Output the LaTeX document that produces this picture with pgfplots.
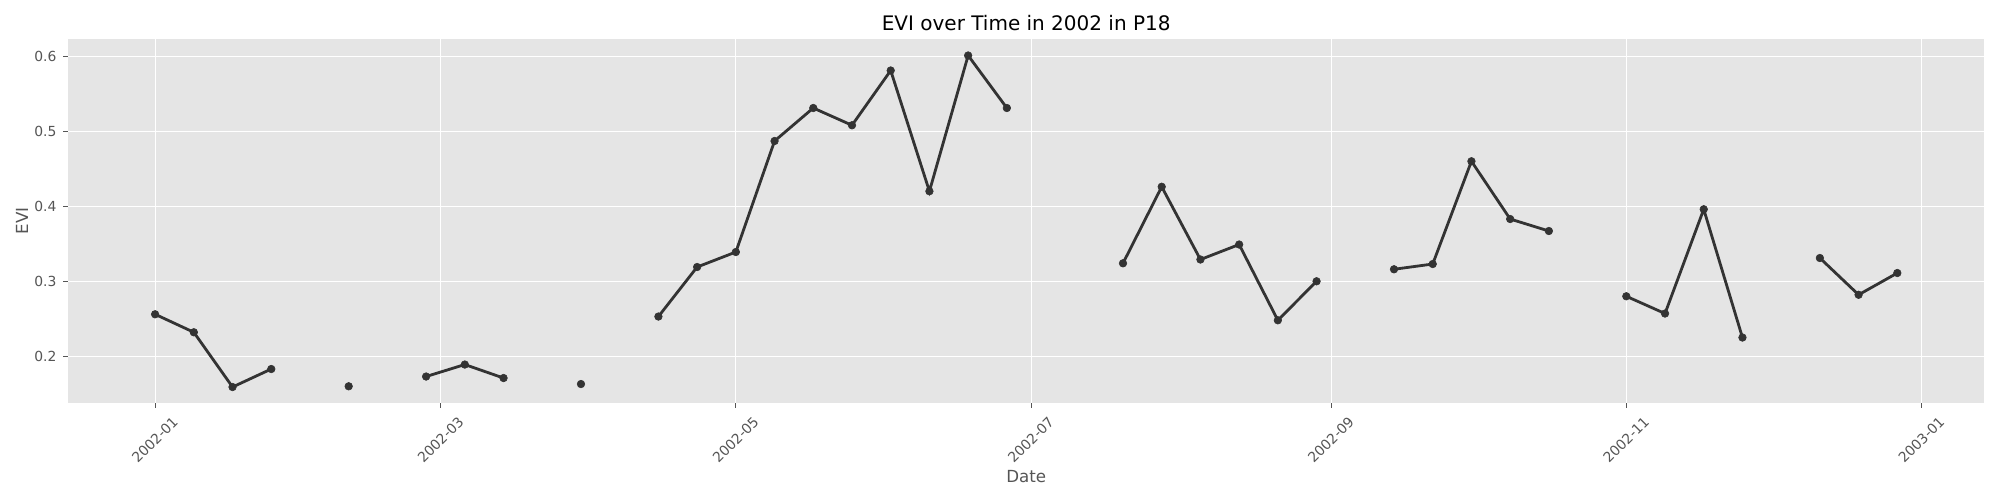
\documentclass[border=0pt]{standalone}
\usepackage{pgfplots}
\pgfplotsset{compat=1.18}
\usepackage{pgfplotstable}
\usepackage{fontspec}
\setmainfont{DejaVu Sans}
\definecolor{bgc}{HTML}{E5E5E5}
\definecolor{txc}{HTML}{555555}
\definecolor{lnc}{HTML}{333333}
\pgfplotstableread{
day evi
0 0.256
8 0.232
16 0.159
24 0.183
32 nan
40 0.160
48 nan
56 0.173
64 0.189
72 0.171
80 nan
88 0.163
96 nan
104 0.253
112 0.319
120 0.339
128 0.487
136 0.531
144 0.508
152 0.581
160 0.420
168 0.601
176 0.531
184 nan
200 0.324
208 0.426
216 0.329
224 0.349
232 0.248
240 0.300
248 nan
256 0.316
264 0.323
272 0.460
280 0.383
288 0.367
296 nan
304 0.280
312 0.257
320 0.396
328 0.225
336 nan
344 0.331
352 0.282
360 0.311
}\evidata
\begin{document}
\begin{tikzpicture}
\path[use as bounding box] (-34pt,-48.5pt) rectangle (966pt,201.5pt);
\begin{axis}[
  scale only axis,
  width=958.2pt, height=182pt,
  at={(0,0)}, anchor=south west,
  xmin=-18, xmax=378,
  ymin=0.1377, ymax=0.623,
  axis background/.style={fill=bgc},
  axis line style={draw=none},
  grid=major,
  major grid style={white, line width=0.5pt},
  tick align=outside,
  major tick length=2.43pt,
  tick style={txc, line width=0.4pt},
  xtick pos=bottom, ytick pos=left,
  xtick={0,59,120,181,243,304,365},
  xticklabels={2002-01,2002-03,2002-05,2002-07,2002-09,2002-11,2003-01},
  ytick={0.2,0.3,0.4,0.5,0.6},
  yticklabels={0.2,0.3,0.4,0.5,0.6},
  xticklabel style={font=\fontsize{6.94}{8}\selectfont, text=txc, inner sep=0pt, xshift=8.3pt, yshift=-3.6pt, rotate=45, anchor=north east},
  yticklabel style={font=\fontsize{6.94}{8}\selectfont, text=txc, inner sep=0pt, xshift=-3.2pt, anchor=east},
  unbounded coords=jump,
  clip=false,
]
\addplot[lnc, line width=1.4pt, mark=*, mark size=1.9pt, mark options={fill=lnc, draw=lnc, line width=0.3pt}] table[x=day, y=evi] {\evidata};
\end{axis}
\node[font=\fontsize{10}{12}\selectfont, anchor=base, inner sep=0pt] at (479.1pt,186.2pt) {EVI over Time in 2002 in P18};
\node[font=\fontsize{8.33}{10}\selectfont, text=txc, inner sep=0pt, anchor=center] at (479.1pt,-36.8pt) {Date};
\node[font=\fontsize{8.33}{10}\selectfont, text=txc, inner sep=0pt, anchor=center, rotate=90] at (-23pt,91pt) {EVI};
\end{tikzpicture}
\end{document}
